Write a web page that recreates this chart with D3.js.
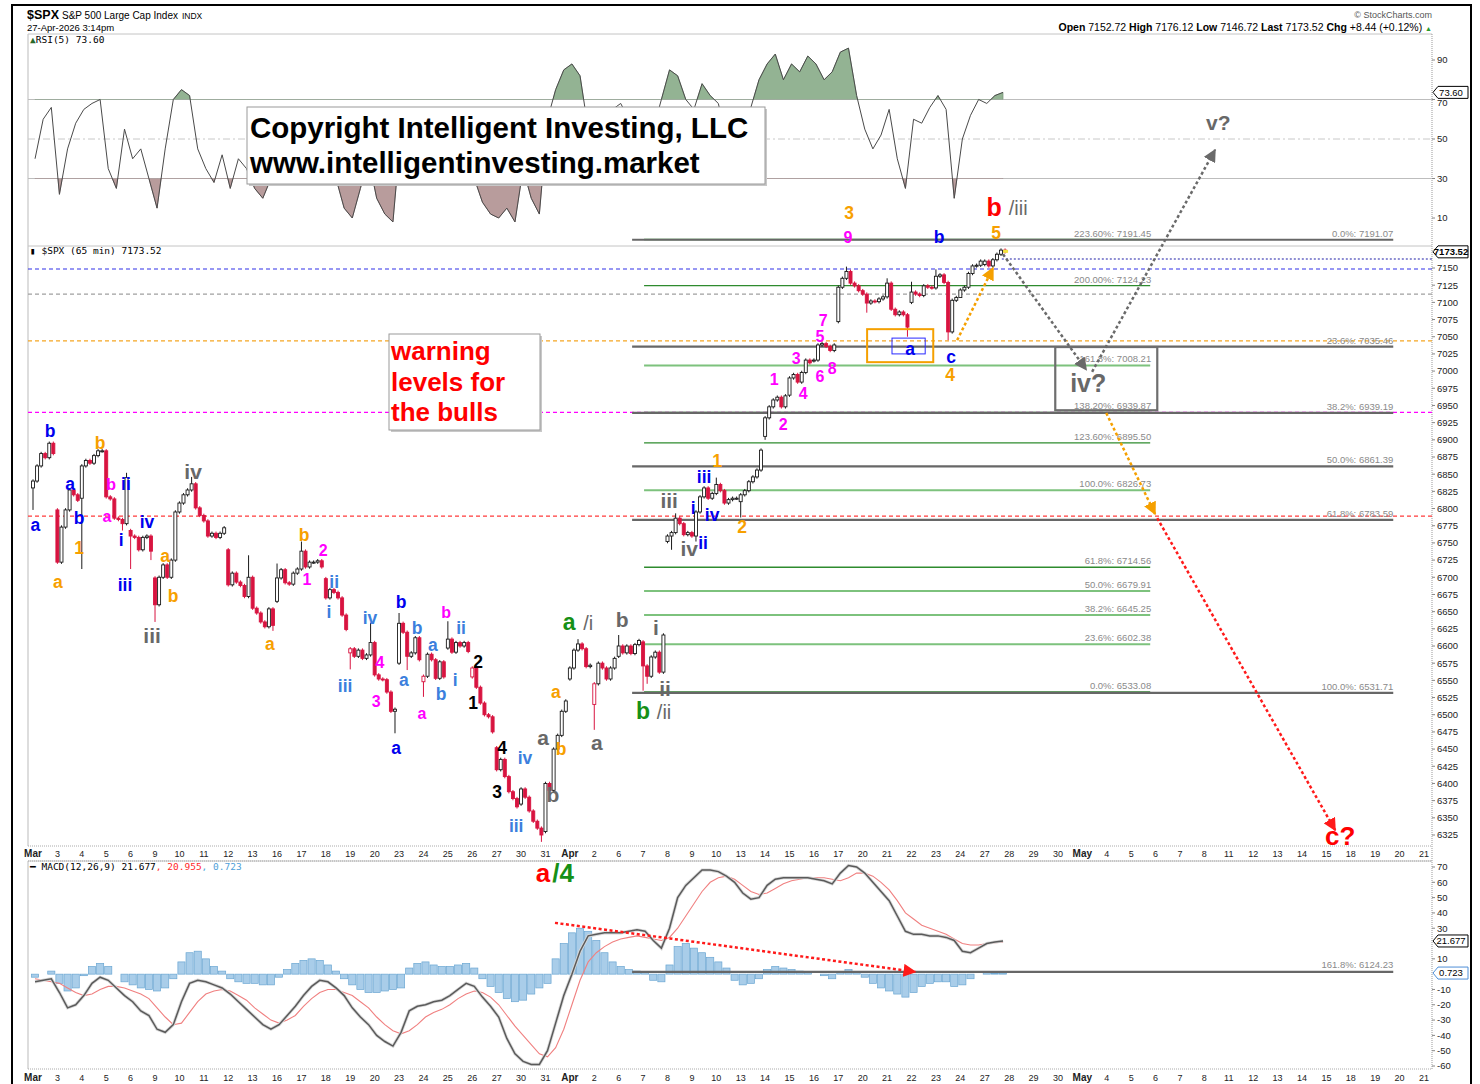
<!DOCTYPE html>
<html>
<head>
<meta charset="utf-8">
<script src="https://cdn.jsdelivr.net/npm/d3@7"></script>
<style>
  body { margin: 0; background: #fff; }
  svg { display: block; font-family: "Liberation Sans", Arial, sans-serif; }
  .ax { font-size: 9.5px; fill: #222; }
  .mono { font-family: "DejaVu Sans Mono", monospace; font-size: 9.5px; }
</style>
</head>
<body>
<div id="container"></div>
<script>
/* DATA */
// trading days on the axis (Mar 2 .. May 21)
const dayLabels = ["Mar","3","4","5","6","9","10","11","12","13","16","17","18","19","20","23","24","25","26","27","30","31",
  "Apr","2","6","7","8","9","10","13","14","15","16","17","20","21","22","23","24","27","28","29","30",
  "May","4","5","6","7","8","11","12","13","14","15","18","19","20","21"];
const monthNames = ["Mar", "Apr", "May"];

// 65 min candles, 6 per day: first open of each day, then the closes
const dayOpen = [6830, 6798, 6815, 6884, 6768, 6699, 6795, 6790, 6740, 6700, 6665, 6712, 6698, 6590, 6605, 6575, 6548, 6597, 6555, 6452,
  6370, 6330, 6552, 6515, 6585, 6606, 6752, 6765, 6822, 6810, 6905, 6965, 7015, 7072, 7117, 7108, 7100, 7121, 7107, 7155];
const dayCloses = [
  [6840, 6862, 6880, 6874, 6895, 6880], [6722, 6773, 6798, 6827, 6820, 6812], [6862, 6870, 6866, 6877, 6884, 6884],
  [6817, 6814, 6786, 6784, 6778, 6845], [6760, 6758, 6740, 6758, 6760, 6738], [6660, 6700, 6718, 6700, 6725, 6795],
  [6808, 6820, 6827, 6836, 6801, 6790], [6782, 6760, 6764, 6758, 6764, 6772], [6689, 6706, 6693, 6688, 6672, 6700],
  [6655, 6648, 6635, 6628, 6654, 6630], [6699, 6711, 6692, 6690, 6706, 6712], [6738, 6715, 6722, 6722, 6724, 6715],
  [6670, 6682, 6678, 6670, 6645, 6624], [6596, 6585, 6594, 6582, 6587, 6605], [6558, 6552, 6551, 6533, 6505, 6508],
  [6633, 6620, 6585, 6590, 6612, 6580], [6556, 6588, 6580, 6553, 6577, 6555], [6610, 6591, 6605, 6600, 6605, 6592],
  [6568, 6540, 6517, 6500, 6497, 6475], [6420, 6435, 6410, 6388, 6378, 6366], [6392, 6380, 6360, 6345, 6335, 6325],
  [6400, 6390, 6450, 6470, 6505, 6520], [6568, 6594, 6603, 6596, 6570, 6572], [6545, 6575, 6568, 6552, 6568, 6582],
  [6600, 6590, 6600, 6589, 6602, 6608], [6571, 6556, 6584, 6591, 6562, 6616], [6760, 6765, 6786, 6778, 6762, 6765],
  [6760, 6795, 6817, 6830, 6815, 6822], [6835, 6826, 6808, 6813, 6815, 6815], [6820, 6826, 6839, 6846, 6856, 6885],
  [6932, 6948, 6958, 6962, 6948, 6964], [6990, 6995, 6984, 6998, 7016, 7012], [7016, 7038, 7040, 7036, 7030, 7038],
  [7122, 7135, 7145, 7128, 7124, 7117], [7112, 7099, 7102, 7101, 7105, 7108], [7128, 7090, 7082, 7086, 7082, 7064],
  [7115, 7112, 7110, 7124, 7122, 7121], [7138, 7140, 7129, 7057, 7103, 7107], [7118, 7122, 7142, 7153, 7154, 7160],
  [7160, 7153, 7162, 7170, 7176, 7173.52]
];
// long wicks: [day, bar, high, low]
const wickMarks = [
  [0, 0, null, 6798], [2, 0, null, 6712], [3, 4, null, 6768], [3, 5, 6852, null], [4, 0, null, 6712], [4, 5, null, 6725],
  [5, 0, null, 6635], [6, 3, 6846, null], [8, 5, 6732, null], [9, 5, null, 6622], [10, 0, 6720, null], [11, 0, 6752, null],
  [13, 0, null, 6566], [13, 5, 6634, null], [14, 5, null, 6473], [15, 0, 6648, null], [15, 2, null, 6565], [16, 0, null, 6526],
  [17, 0, 6636, null], [20, 5, null, 6315], [21, 1, null, 6380], [22, 2, 6610, null], [23, 0, null, 6478], [24, 0, 6616, null],
  [25, 0, null, 6535], [25, 1, null, 6545], [26, 1, null, 6740], [26, 2, 6793, null], [27, 1, null, 6752], [28, 0, 6845, null],
  [29, 0, null, 6787], [30, 0, null, 6900], [33, 2, 7152, null], [34, 1, null, 7085], [35, 0, 7135, null], [35, 5, null, 7050],
  [36, 0, 7130, null], [37, 0, 7148, null], [37, 3, null, 7045], [38, 0, null, 7108]
];

// indicators, 3 readings per day
const rsiVals = [40, 60, 66, 22, 45, 58, 65, 68, 70, 35, 25, 55, 40, 45, 30, 15, 45, 70, 75, 72, 45, 35, 28, 42,
  25, 40, 35, 25, 20, 30, 55, 60, 55, 65, 50, 48, 35, 30, 15, 10, 25, 40, 20, 12, 8, 55, 30, 40,
  35, 50, 40, 58, 52, 48, 30, 18, 12, 10, 15, 8, 35, 20, 12, 60, 75, 85, 88, 82, 55, 40, 62, 65,
  68, 60, 66, 40, 55, 70, 85, 82, 70, 65, 78, 72, 68, 50, 52, 58, 66, 80, 88, 93, 80, 88, 84, 92,
  88, 80, 84, 94, 96, 72, 55, 45, 52, 65, 40, 25, 60, 58, 66, 72, 65, 20, 50, 62, 70, 68, 72, 73.6];
const macdVals = [-5, -4, -3, -12, -22, -20, -14, -6, -2, -4, -9, -14, -18, -24, -27, -36, -38, -33, -18, -6, -4, -5, -7, -9,
  -13, -18, -23, -28, -33, -36, -33, -27, -21, -14, -8, -4, -5, -9, -14, -22, -28, -33, -40, -44, -47, -38, -24, -21,
  -20, -18, -17, -14, -10, -6, -8, -15, -21, -28, -42, -52, -57, -59, -59, -50, -32, -14, 0, 15, 25, 26, 27, 27,
  27, 28, 29, 28, 22, 17, 30, 50, 58, 63, 68, 68, 67, 64, 60, 53, 49, 50, 58, 62, 63, 63, 63, 63,
  62, 61, 59, 66, 71, 70, 66, 60, 54, 48, 38, 28, 26, 26, 25, 25, 24, 22, 15, 14, 17, 20, 21, 21.677];
const signalVals = [-3, -4, -5, -6, -9, -12, -14, -13, -10, -8, -8, -9, -11, -13, -16, -22, -28, -33, -32, -25, -18, -13, -11, -10,
  -11, -14, -17, -22, -26, -30, -32, -30, -27, -21, -16, -12, -10, -10, -12, -14, -18, -22, -28, -33, -37, -39, -37, -33,
  -28, -25, -23, -20, -16, -13, -11, -12, -15, -20, -27, -34, -40, -46, -52, -54, -48, -36, -20, -4, 8, 14, 18, 21,
  23, 24, 25, 24, 23, 22, 24, 30, 38, 46, 54, 60, 63, 64, 62, 58, 54, 52, 53, 56, 59, 61, 62, 63,
  63, 63, 62, 61, 63, 66, 66, 64, 60, 55, 48, 40, 36, 32, 30, 28, 26, 23, 20, 19, 19, 20, 20.5, 20.955];
const histVals = [-2, 0, 2, -6, -11, -9, -1, 5, 7, 5, 0, -5, -7, -9, -10, -11, -9, -3, 8, 14, 15, 10, 5, 2,
  -3, -5, -6, -6, -7, -7, -2, 3, 7, 9, 10, 9, 6, 2, -3, -7, -10, -12, -12, -11, -10, -9, 4, 7,
  8, 6, 5, 5, 6, 7, 4, -3, -8, -12, -16, -18, -17, -13, -9, -6, 10, 20, 27, 30, 28, 22, 14, 8,
  5, 3, 2, 1, -4, -5, 6, 18, 20, 17, 14, 11, 8, 4, -4, -7, -6, -3, 3, 5, 4, 3, 2, 1,
  0, -1, -3, 1, 3, 1, -2, -6, -9, -11, -13, -15, -12, -8, -6, -5, -5, -8, -7, -3, 0, 1, 0.5, 0.723];

// fibonacci levels
const retPct = ["0.0%", "23.6%", "38.2%", "50.0%", "61.8%", "100.0%"];
const retPrice = [7191.07, 7035.46, 6939.19, 6861.39, 6783.59, 6531.71];
const extPct = ["223.60%", "200.00%", "161.8%", "138.20%", "123.60%", "100.0%", "61.8%", "50.0%", "38.2%", "23.6%", "0.0%"];
const extPrice = [7191.45, 7124.23, 7008.21, 6939.87, 6895.50, 6826.73, 6714.56, 6679.91, 6645.25, 6602.38, 6533.08];
const extDark = [true, true, false, true, true, false, true, false, false, false, true];
const retSpan = [24.55, 55.74];
const extSpan = [25.04, 45.78];
const macdFibValue = 1.5;
const macdFibText = "161.8%: 6124.23";

// dashed price levels
const levelPrice = [7148.5, 7112, 7044, 6940, 6789];
const levelColor = ["#3030e8", "#a0a0a0", "#f5a623", "#ff00ff", "#ff3b3b"];
const lastLine = 7163;

// elliott wave labels: [day position, price, text, colour]
const waveLabels = [
  [0.70, 6904, "b", "blue"], [2.75, 6887, "b", "orange"], [1.52, 6827, "a", "blue"], [3.20, 6827, "b", "magenta"],
  [3.81, 6827, "ii", "blue"], [6.56, 6843, "iv", "gray"], [0.10, 6767, "a", "blue"], [1.89, 6777, "b", "blue"],
  [3.03, 6780, "a", "magenta"], [4.67, 6772, "iv", "blue"], [3.61, 6746, "i", "blue"], [1.89, 6734, "1", "orange"],
  [5.41, 6722, "a", "orange"], [5.74, 6664, "b", "orange"], [3.77, 6680, "iii", "blue"], [1.02, 6684, "a", "orange"],
  [4.88, 6604, "iii", "gray"], [11.11, 6753, "b", "orange"], [11.89, 6731, "2", "magenta"], [11.23, 6689, "1", "magenta"],
  [12.34, 6684, "ii", "lblue"], [12.13, 6641, "i", "lblue"], [9.71, 6594, "a", "orange"], [15.08, 6655, "b", "blue"],
  [13.81, 6632, "iv", "lblue"], [16.93, 6641, "b", "magenta"], [15.74, 6617, "b", "lblue"], [17.54, 6617, "ii", "lblue"],
  [16.39, 6593, "a", "lblue"], [14.22, 6568, "4", "magenta"], [18.24, 6568, "2", "black"], [15.20, 6542, "a", "lblue"],
  [17.30, 6542, "i", "lblue"], [12.79, 6533, "iii", "lblue"], [16.72, 6521, "b", "lblue"], [14.06, 6511, "3", "magenta"],
  [18.03, 6508, "1", "black"], [15.94, 6494, "a", "magenta"], [14.88, 6443, "a", "blue"], [19.22, 6443, "4", "black"],
  [20.16, 6428, "iv", "lblue"], [19.02, 6379, "3", "black"], [21.31, 6373, "b", "gray"], [20.90, 6456, "a", "gray"],
  [21.64, 6441, "b", "orange"], [21.43, 6524, "a", "orange"], [19.80, 6329, "iii", "lblue"],
  [21.97, 6623, "a", "green"], [22.75, 6623, "/i", "slash"], [24.14, 6628, "b", "gray"], [25.53, 6616, "i", "gray"],
  [23.11, 6449, "a", "gray"], [25.90, 6527, "ii", "gray"], [25.00, 6494, "b", "green"], [25.86, 6494, "/ii", "slash"],
  [26.07, 6801, "iii", "gray"], [27.50, 6837, "iii", "blue"], [27.05, 6792, "i", "blue"], [27.83, 6782, "iv", "blue"],
  [28.03, 6860, "1", "orange"], [29.06, 6764, "2", "orange"], [26.89, 6731, "iv", "gray"], [27.46, 6741, "ii", "blue"],
  [30.74, 6914, "2", "magenta"], [30.37, 6980, "1", "magenta"], [31.27, 7010, "3", "magenta"], [31.56, 6959, "4", "magenta"],
  [32.25, 7042, "5", "magenta"], [32.38, 7066, "7", "magenta"], [32.25, 6984, "6", "magenta"], [32.75, 6996, "8", "magenta"],
  [33.44, 7221, "3", "orange"], [33.40, 7186, "9", "magenta"], [37.13, 7186, "b", "blue"], [35.94, 7023, "a", "blue"],
  [37.62, 7012, "c", "blue"], [37.58, 6986, "4", "orange"], [39.39, 7226, "b", "red"], [40.37, 7227, "/iii", "slash"],
  [39.47, 7192, "5", "orange"], [48.57, 7351, "v?", "gray"], [43.24, 6970, "iv?", "gray"], [53.57, 6310, "c?", "red"]
];
const macdLabels = [[20.90, 60, "a", "red"], [21.72, 60, "/4", "green"]];

// forecast arrows: [day, price] pairs
const grayPath1 = [[39.75, 7170], [43.16, 7002]];
const grayPath2 = [[43.40, 6999], [48.44, 7322]];
const orangeUp = [[37.87, 7045], [39.34, 7150]];
const orangeDown = [[43.98, 6939], [45.98, 6792]];
const redDown = [[46.07, 6786], [53.36, 6332]];
const macdTrend = [[21.39, 33.5], [36.15, 1.5]];

// boxes in chart units: [day0, day1, priceTop, priceBottom]
const orangeBox = [34.18, 36.89, 7061, 7013];
const blueBox = [35.2, 36.56, 7048, 7025];
const ivBox = [41.89, 46.07, 7035, 6943];

/* SCALES */
const L = 28, R = 1432;
const x = d3.scaleLinear().domain([0, 57]).range([33, 1424]);
const yP = d3.scaleLinear().domain([6325, 7150]).range([835, 268]);
const yR = d3.scaleLinear().domain([10, 90]).range([218, 60]);
const yM = d3.scaleLinear().domain([-60, 70]).range([1066, 867]);

/* SVG */
const svg = d3.select("#container").append("svg").attr("width", 1480).attr("height", 1084);
svg.append("rect").attr("width", 1480).attr("height", 1084).attr("fill", "#fff");

const defs = svg.append("defs");
function marker(id, color) {
  defs.append("marker").attr("id", id).attr("viewBox", "0 0 10 10")
    .attr("refX", 9).attr("refY", 5).attr("markerWidth", 13).attr("markerHeight", 13)
    .attr("markerUnits", "userSpaceOnUse").attr("orient", "auto")
    .append("path").attr("d", "M0,0 L10,5 L0,10 z").attr("fill", color);
}
marker("mGray", "#6a6a6a");
marker("mOrange", "#f5a000");
marker("mRed", "#ff1a1a");

// outer frame
svg.append("rect").attr("x", 12).attr("y", 5).attr("width", 1459).attr("height", 1100)
  .attr("fill", "none").attr("stroke", "#000").attr("stroke-width", 2);

// header
const head = svg.append("g");
const t1 = head.append("text").attr("x", 27).attr("y", 19);
t1.append("tspan").attr("font-weight", "bold").attr("font-size", 12.5).text("$SPX");
t1.append("tspan").attr("font-size", 10).attr("dx", 3).text("S&P 500 Large Cap Index");
t1.append("tspan").attr("font-size", 8.5).attr("dx", 4).text("INDX");
head.append("text").attr("x", 27).attr("y", 31).attr("font-size", 9.5).text("27-Apr-2026 3:14pm");
head.append("text").attr("x", 1432).attr("y", 18).attr("font-size", 9).attr("fill", "#555")
  .attr("text-anchor", "end").text("© StockCharts.com");
const ohlc = head.append("text").attr("x", 1432).attr("y", 31).attr("font-size", 10.5).attr("text-anchor", "end");
[["Open", " 7152.72 "], ["High", " 7176.12 "], ["Low", " 7146.72 "], ["Last", " 7173.52 "], ["Chg", " +8.44 (+0.12%) "]]
  .forEach(([k, v]) => {
    ohlc.append("tspan").attr("font-weight", "bold").text(k);
    ohlc.append("tspan").text(v);
  });
ohlc.append("tspan").attr("fill", "#2a9a2a").attr("font-size", 7).text("▲");

// panels
const panels = [[34, 246], [246, 846], [861, 1069]];
panels.forEach(([t, b]) => {
  svg.append("line").attr("x1", L).attr("x2", L).attr("y1", t).attr("y2", b).attr("stroke", "#bbb");
  svg.append("line").attr("x1", L).attr("x2", R).attr("y1", t).attr("y2", t).attr("stroke", "#c4c4c4");
});
[846, 861, 1069].forEach(yy => svg.append("line").attr("x1", L).attr("x2", R).attr("y1", yy).attr("y2", yy)
  .attr("stroke", "#aaa").attr("stroke-dasharray", "1,1"));
svg.append("line").attr("x1", R).attr("x2", R).attr("y1", 34).attr("y2", 1069)
  .attr("stroke", "#999").attr("stroke-dasharray", "1,1");

/* RSI PANEL */
const rsiPts = rsiVals.map((v, i) => ({ t: Math.floor(i / 3) + (2 * (i % 3) + 0.5) / 6, v }));
const gR = svg.append("g");
[70, 30].forEach(v => gR.append("line").attr("x1", L).attr("x2", R).attr("y1", yR(v)).attr("y2", yR(v)).attr("stroke", "#bdbdbd"));
gR.append("line").attr("x1", L).attr("x2", R).attr("y1", yR(50)).attr("y2", yR(50))
  .attr("stroke", "#c8c8c8").attr("stroke-dasharray", "7,3,2,3");
defs.append("clipPath").attr("id", "above70").append("rect").attr("x", L).attr("y", 34).attr("width", R - L).attr("height", yR(70) - 34);
defs.append("clipPath").attr("id", "below30").append("rect").attr("x", L).attr("y", yR(30)).attr("width", R - L).attr("height", 246 - yR(30));
gR.append("path").datum(rsiPts).attr("clip-path", "url(#above70)").attr("fill", "#93b393").attr("stroke", "#6f8f6f").attr("stroke-width", 0.6)
  .attr("d", d3.area().x(d => x(d.t)).y0(yR(70)).y1(d => yR(d.v)));
gR.append("path").datum(rsiPts).attr("clip-path", "url(#below30)").attr("fill", "#b89c9c").attr("stroke", "#947676").attr("stroke-width", 0.6)
  .attr("d", d3.area().x(d => x(d.t)).y0(yR(30)).y1(d => yR(d.v)));
gR.append("path").datum(rsiPts).attr("fill", "none").attr("stroke", "#4a4a4a").attr("stroke-width", 1)
  .attr("d", d3.line().x(d => x(d.t)).y(d => yR(d.v)));
[10, 30, 50, 70, 90].forEach(v => {
  // the 70 label sits partly under the value tag in the original, nudge it below
  gR.append("text").attr("class", "ax").attr("x", 1437).attr("y", yR(v) + (v === 70 ? 3 : 0)).attr("dy", "0.35em").text(v);
  gR.append("line").attr("x1", R).attr("x2", R + 3).attr("y1", yR(v)).attr("y2", yR(v)).attr("stroke", "#888");
});
const rl = gR.append("text").attr("class", "mono").attr("x", 30).attr("y", 43);
rl.append("tspan").attr("fill", "#2a6a2a").text("▲");
rl.append("tspan").text("RSI(5) 73.60");

/* PRICE PANEL */
const gP = svg.append("g");

// dashed levels
levelPrice.forEach((p, i) => gP.append("line").attr("x1", L).attr("x2", R).attr("y1", yP(p)).attr("y2", yP(p))
  .attr("stroke", levelColor[i]).attr("stroke-width", 1.1).attr("stroke-dasharray", "4,3"));
gP.append("line").attr("x1", x(39.7)).attr("x2", R).attr("y1", yP(lastLine)).attr("y2", yP(lastLine))
  .attr("stroke", "#1e1ea8").attr("stroke-width", 1.1).attr("stroke-dasharray", "2,2");

// fib extension lines (green) then retracement (gray)
extPrice.forEach((p, i) => {
  gP.append("line").attr("x1", x(extSpan[0])).attr("x2", x(extSpan[1])).attr("y1", yP(p)).attr("y2", yP(p))
    .attr("stroke", extDark[i] ? "#2e8b2e" : "#7dc27d").attr("stroke-width", extDark[i] ? 1.3 : 2);
});
retPrice.forEach(p => gP.append("line").attr("x1", x(retSpan[0])).attr("x2", x(retSpan[1])).attr("y1", yP(p)).attr("y2", yP(p))
  .attr("stroke", "#676767").attr("stroke-width", 2.2));
extPrice.forEach((p, i) => gP.append("text").attr("x", x(extSpan[1]) + 1).attr("y", yP(p) - 3).attr("text-anchor", "end")
  .attr("font-size", 9.5).attr("fill", "#8a8a8a").text(extPct[i] + ": " + p.toFixed(2)));
retPrice.forEach((p, i) => gP.append("text").attr("x", x(retSpan[1])).attr("y", yP(p) - 3).attr("text-anchor", "end")
  .attr("font-size", 9.5).attr("fill", "#8a8a8a").text(retPct[i] + ": " + p.toFixed(2)));

// candles
const bars = [];
let prevClose = dayOpen[0];
dayCloses.forEach((cl, d) => cl.forEach((c, k) => {
  const o = k === 0 ? dayOpen[d] : cl[k - 1];
  bars.push({ t: d + k / 6, o, c, prev: prevClose, h: null, l: null });
  prevClose = c;
}));
wickMarks.forEach(([d, k, hi, lo]) => { const b = bars[d * 6 + k]; b.h = hi; b.l = lo; });
const wickPad = 2.5;
const candles = gP.selectAll("g.candle").data(bars).join("g").attr("class", "candle");
const colOf = b => b.c < b.prev ? "#d81440" : "#1a1a1a";
candles.append("line")
  .attr("x1", b => x(b.t)).attr("x2", b => x(b.t))
  .attr("y1", b => yP(b.h ?? Math.max(b.o, b.c) + wickPad))
  .attr("y2", b => yP(b.l ?? Math.min(b.o, b.c) - wickPad))
  .attr("stroke", colOf).attr("stroke-width", 1);
candles.append("rect")
  .attr("x", b => x(b.t) - 1.5).attr("width", 3)
  .attr("y", b => yP(Math.max(b.o, b.c)))
  .attr("height", b => Math.max(1, yP(Math.min(b.o, b.c)) - yP(Math.max(b.o, b.c))))
  .attr("fill", b => b.c < b.o ? colOf(b) : "#fff")
  .attr("stroke", colOf).attr("stroke-width", 0.9);
// current bar highlight
const lastBar = bars[bars.length - 1];
gP.append("rect").attr("x", x(lastBar.t) - 2).attr("y", yP(lastBar.c) - 2).attr("width", 5).attr("height", 3).attr("fill", "#f2e640");

// right axis
d3.range(6325, 7151, 25).forEach(p => {
  gP.append("text").attr("class", "ax").attr("x", 1437).attr("y", yP(p)).attr("dy", "0.35em").text(p);
  gP.append("line").attr("x1", R).attr("x2", R + 3).attr("y1", yP(p)).attr("y2", yP(p)).attr("stroke", "#888");
});
const pl = gP.append("text").attr("class", "mono").attr("x", 30).attr("y", 254);
pl.append("tspan").attr("font-weight", "bold").text("▮ ");
pl.append("tspan").text("$SPX (65 min) 7173.52");

// boxes
function boxAt(b, stroke, width) {
  return gP.append("rect").attr("x", x(b[0])).attr("y", yP(b[2])).attr("width", x(b[1]) - x(b[0]))
    .attr("height", yP(b[3]) - yP(b[2])).attr("fill", "none").attr("stroke", stroke).attr("stroke-width", width);
}
boxAt(orangeBox, "#f5a000", 2);
boxAt(blueBox, "#2a2aff", 1);
boxAt(ivBox, "#6e6e6e", 2.2);

// text boxes
function noteBox(x0, y0, w, h) {
  svg.append("rect").attr("x", x0 + 2).attr("y", y0 + 2).attr("width", w).attr("height", h).attr("fill", "#c8c8c8");
  svg.append("rect").attr("x", x0).attr("y", y0).attr("width", w).attr("height", h).attr("fill", "#fff").attr("stroke", "#9a9a9a");
}
noteBox(247, 107, 518, 77);
svg.append("text").attr("x", 250).attr("y", 138).attr("font-size", 29.5).attr("font-weight", "bold").text("Copyright Intelligent Investing, LLC");
svg.append("text").attr("x", 250).attr("y", 173).attr("font-size", 29.5).attr("font-weight", "bold").text("www.intelligentinvesting.market");
noteBox(389, 334, 151, 96);
["warning", "levels for", "the bulls"].forEach((s, i) => svg.append("text").attr("x", 391).attr("y", 360 + i * 30.5)
  .attr("font-size", 26).attr("font-weight", "bold").attr("fill", "#ff0000").text(s));

// forecast arrows
function arrow(g, pts, ys, color, mk) {
  g.append("path").attr("d", d3.line().x(d => x(d[0])).y(d => ys(d[1]))(pts))
    .attr("fill", "none").attr("stroke", color).attr("stroke-width", 2.5).attr("stroke-dasharray", "3,2.5")
    .attr("marker-end", `url(#${mk})`);
}
arrow(svg, grayPath1, yP, "#6a6a6a", "mGray");
arrow(svg, grayPath2, yP, "#6a6a6a", "mGray");
arrow(svg, orangeUp, yP, "#f5a000", "mOrange");
arrow(svg, orangeDown, yP, "#f5a000", "mOrange");
arrow(svg, redDown, yP, "#ff1a1a", "mRed");

// wave labels
const labelColor = { blue: "#0000ee", lblue: "#3c7fdd", orange: "#f7a000", magenta: "#ff00ff", black: "#000",
  gray: "#686868", green: "#169016", red: "#ff0000", slash: "#686868" };
function labelSize(l) {
  const [, , s, c] = l;
  if (s === "iv?") return 25;
  if (s.endsWith("?")) return c === "red" ? 26 : 21;
  if (c === "red") return 25;
  if (c === "green") return 23;
  if (c === "slash") return 20;
  if (c === "gray") return 21;
  if (c === "magenta") return 16;
  return 17.5;
}
svg.append("g").selectAll("text").data(waveLabels).join("text")
  .attr("x", d => x(d[0])).attr("y", d => yP(d[1]))
  .attr("text-anchor", "middle")
  .attr("font-size", labelSize)
  .attr("font-weight", d => d[3] === "slash" ? "normal" : "bold")
  .attr("fill", d => labelColor[d[3]])
  .text(d => d[2]);

/* MACD PANEL */
const gM = svg.append("g");
const mPts = d => d.map((v, i) => ({ t: Math.floor(i / 3) + (2 * (i % 3) + 0.5) / 6, v }));
const bw = x(1 / 3) - x(0) - 1;
gM.selectAll("rect.h").data(mPts(histVals)).join("rect").attr("class", "h")
  .attr("x", d => x(d.t) - bw / 2).attr("width", bw)
  .attr("y", d => Math.min(yM(0), yM(d.v))).attr("height", d => Math.abs(yM(d.v) - yM(0)))
  .attr("fill", "#a9cde9").attr("stroke", "#6aa6d2").attr("stroke-width", 0.7);
gM.append("line").attr("x1", x(retSpan[0])).attr("x2", x(retSpan[1])).attr("y1", yM(macdFibValue)).attr("y2", yM(macdFibValue))
  .attr("stroke", "#676767").attr("stroke-width", 2.2);
gM.append("text").attr("x", x(retSpan[1])).attr("y", yM(macdFibValue) - 4).attr("text-anchor", "end")
  .attr("font-size", 9.5).attr("fill", "#8a8a8a").text(macdFibText);
gM.append("path").datum(mPts(signalVals)).attr("fill", "none").attr("stroke", "#f08080").attr("stroke-width", 1.1)
  .attr("d", d3.line().x(d => x(d.t)).y(d => yM(d.v)));
gM.append("path").datum(mPts(macdVals)).attr("fill", "none").attr("stroke", "#d8d8d8").attr("stroke-width", 3.2)
  .attr("d", d3.line().x(d => x(d.t)).y(d => yM(d.v)));
gM.append("path").datum(mPts(macdVals)).attr("fill", "none").attr("stroke", "#5a5a5a").attr("stroke-width", 1.5)
  .attr("d", d3.line().x(d => x(d.t)).y(d => yM(d.v)));
arrow(gM, macdTrend, yM, "#ff1a1a", "mRed");
// 20 and 0 are hidden under the value tags in the original
d3.range(-60, 71, 10).filter(v => v !== 20 && v !== 0).forEach(v => {
  gM.append("text").attr("class", "ax").attr("x", 1437).attr("y", yM(v)).attr("dy", "0.35em").text(v);
  gM.append("line").attr("x1", R).attr("x2", R + 3).attr("y1", yM(v)).attr("y2", yM(v)).attr("stroke", "#888");
});
const ml = gM.append("text").attr("class", "mono").attr("x", 30).attr("y", 870);
ml.append("tspan").attr("font-weight", "bold").text("━ ");
ml.append("tspan").text("MACD(12,26,9) 21.677");
ml.append("tspan").attr("fill", "#ff2a2a").text(", 20.955");
ml.append("tspan").attr("fill", "#4fa0d8").text(", 0.723");
gM.selectAll("text.ml").data(macdLabels).join("text").attr("class", "ml")
  .attr("x", d => x(d[0])).attr("y", d => yM(d[1])).attr("text-anchor", "middle")
  .attr("font-size", 26).attr("font-weight", "bold").attr("fill", d => labelColor[d[3]]).text(d => d[2]);

/* VALUE TAGS ON THE AXIS */
function tag(yy, text, stroke, bold) {
  const g = svg.append("g");
  g.append("path").attr("d", `M${R + 1},${yy} L${R + 6},${yy - 6} L1468,${yy - 6} L1468,${yy + 6} L${R + 6},${yy + 6} Z`)
    .attr("fill", "#fff").attr("stroke", stroke).attr("stroke-width", 1);
  g.append("text").attr("x", 1451).attr("y", yy).attr("dy", "0.35em").attr("text-anchor", "middle")
    .attr("font-size", 9.5).attr("font-weight", bold ? "bold" : "normal").text(text);
}
tag(yP(7173.52), "7173.52", "#000", true);
tag(yR(73.6), "73.60", "#000", false);
tag(yM(21.677), "21.677", "#000", false);
tag(yM(0.723), "0.723", "#4f8fd8", false);

/* DATE AXES */
[857, 1081].forEach(yy => {
  svg.append("g").selectAll("text").data(dayLabels).join("text")
    .attr("x", (d, i) => x(i)).attr("y", yy).attr("text-anchor", "middle")
    .attr("font-size", d => monthNames.includes(d) ? 10 : 9)
    .attr("font-weight", d => monthNames.includes(d) ? "bold" : "normal")
    .attr("fill", "#222")
    .text(d => d);
});
</script>
</body>
</html>
